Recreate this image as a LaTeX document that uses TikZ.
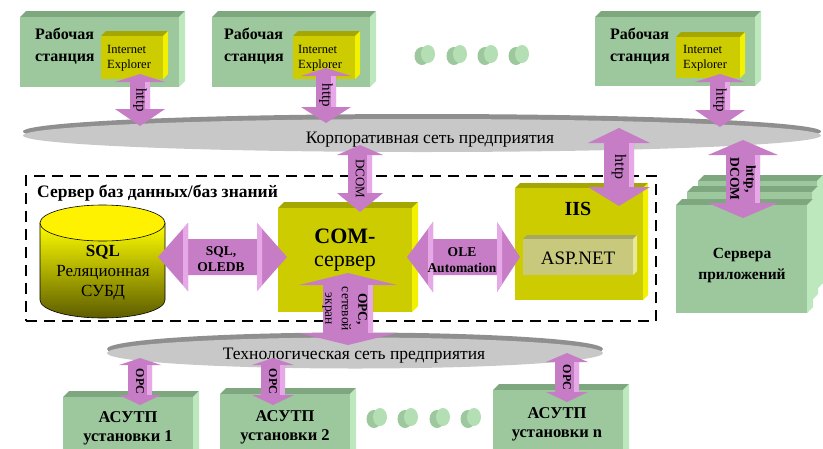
\documentclass[tikz,border=0pt]{standalone}
\usepackage{fontspec}
\setmainfont{Liberation Serif}
\usetikzlibrary{shapes.geometric}
\definecolor{gfront}{HTML}{9DC79D}
\definecolor{gside}{HTML}{BDE8BD}
\definecolor{gtop}{HTML}{7FA77F}
\definecolor{yfront}{HTML}{CCCC00}
\definecolor{yside}{HTML}{F2F200}
\definecolor{ytop}{HTML}{A6A600}
\definecolor{afront}{HTML}{C9C97D}
\definecolor{aside}{HTML}{E8E896}
\definecolor{atop}{HTML}{A7A765}
\definecolor{arr}{HTML}{C67DC6}
\definecolor{arrl}{HTML}{E6A8E6}
\definecolor{netg}{HTML}{C8C8C8}
\definecolor{netd}{HTML}{8F8F8F}
\newcommand\fsz[2]{\fontsize{#1}{#2}\selectfont}
% 3D box: name, x1, y1, x2, y2, depth, colour prefix
\newcommand\boxthreed[7]{%
  \fill[#7top] (#2,#3) -- ({#2+#6},{#3-#6}) -- ({#4+#6},{#3-#6}) -- (#4,#3) -- cycle;
  \fill[#7side] (#4,#3) -- ({#4+#6},{#3-#6}) -- ({#4+#6},{#5-#6}) -- (#4,#5) -- cycle;
  \node[fill=#7front, inner sep=0, anchor=north west, minimum width={#4-#2}, minimum height={#5-#3}] (#1) at (#2,#3) {};
}
% vertical double block arrow: name, cx, ytop, ybot, shaft half, head half, top len, bottom len
\newcommand\varr[8]{%
  \fill[arr] (#2,#3) -- ({#2+#6},{#3+#7}) -- ({#2+#5},{#3+#7}) -- ({#2+#5},{#4-#8}) -- ({#2+#6},{#4-#8}) -- (#2,#4)
    -- ({#2-#6},{#4-#8}) -- ({#2-#5},{#4-#8}) -- ({#2-#5},{#3+#7}) -- ({#2-#6},{#3+#7}) -- cycle;
  \fill[arrl] ({#2+#5-5},{#3+#7}) rectangle ({#2+#5},{#4-#8});
  \coordinate (#1) at (#2,{(#3+#4)/2});
}
% horizontal double block arrow: name, xl, xr, cy, shaft half, head half, left len, right len
\newcommand\harr[8]{%
  \fill[arr] (#2,#4) -- ({#2+#7},{#4-#6}) -- ({#2+#7},{#4-#5}) -- ({#3-#8},{#4-#5}) -- ({#3-#8},{#4-#6}) -- (#3,#4)
    -- ({#3-#8},{#4+#6}) -- ({#3-#8},{#4+#5}) -- ({#2+#7},{#4+#5}) -- ({#2+#7},{#4+#6}) -- cycle;
  \fill[arrl] ({#2+#7},{#4-#6}) -- ({#2+#7},{#4+#6}) -- ({#2+#7-5},{#4+#6-5*#6/#7}) -- ({#2+#7-5},{#4-#6+5*#6/#7}) -- cycle;
  \fill[arrl] ({#3-#8},{#4-#6}) -- ({#3-#8},{#4+#6}) -- ({#3-#8+5},{#4+#6-5*#6/#8}) -- ({#3-#8+5},{#4-#6+5*#6/#8}) -- cycle;
  \coordinate (#1) at ({(#2+#3)/2},#4);
}
% small green cylinder dot
\newcommand\gdot[3]{%
  \fill[gfront] ({#2-3},{#3+1}) ellipse [x radius=7.5pt, y radius=9pt];
  \fill[gside!70!gfront] ({#2+3},{#3-1}) ellipse [x radius=7pt, y radius=9pt];
  \coordinate (#1) at (#2,#3);
}
\begin{document}
\begin{tikzpicture}[x=1pt,y=-1pt,
  wst/.style={font=\bfseries\fsz{16}{22}, align=left, inner sep=0, anchor=west},
  iet/.style={font=\fsz{12.5}{15.5}, align=left, inner sep=0, anchor=west},
  nett/.style={font=\fsz{17.5}{19}, inner sep=0, anchor=base},
  arrt/.style={rotate=-90, inner sep=0, align=center},
  boldc/.style={font=\bfseries\fsz{16.5}{19}, align=center, inner sep=0},
]
\useasboundingbox (0,0) rectangle (823,448);

% dashed server frame
\node[draw, line width=2.2pt, dash pattern=on 11pt off 7pt, inner sep=0, anchor=north west,
      minimum width=630, minimum height=145] (frame) at (25,175) {};
\node[font=\bfseries\fsz{17.5}{19}, inner sep=0, anchor=base west] (frametitle) at (37,197) {Сервер баз данных/баз знаний};

% workstations
\boxthreed{ws1}{20}{17}{179}{87}{6}{g}
\boxthreed{ws2}{212}{17}{370}{87}{6}{g}
\boxthreed{ws3}{595}{17}{755}{86}{6}{g}
\boxthreed{ie1}{101}{36}{163}{79}{5}{y}
\boxthreed{ie2}{293}{36}{355}{79}{5}{y}
\boxthreed{ie3}{676}{37}{740}{78}{5}{y}
\node[wst] (ws1t) at (35,46) {Рабочая\\станция};
\node[wst] (ws2t) at (224,46) {Рабочая\\станция};
\node[wst] (ws3t) at (610,46) {Рабочая\\станция};
\node[iet] (ie1t) at (107,58) {Internet\\Explorer};
\node[iet] (ie2t) at (298,58) {Internet\\Explorer};
\node[iet] (ie3t) at (683,58) {Internet\\Explorer};

\gdot{d1}{425}{55}
\gdot{d2}{457}{55}
\gdot{d3}{488}{55}
\gdot{d4}{519}{55}

% corporate network
\node[ellipse, fill=netd, minimum width=798, minimum height=35, inner sep=0] (corpsh) at (422,131.5) {};
\node[ellipse, fill=netg, minimum width=798, minimum height=33, inner sep=0] (corp) at (422,135.5) {};
\node[nett] (corpt) at (430,143) {Корпоративная сеть предприятия};

% database cylinder
\shade[top color=yellow, bottom color=yfront!45!black, draw=black, line width=0.6pt]
  (40,223) -- (40,300) arc[start angle=180, end angle=360, x radius=62.5pt, y radius=18pt] -- (165,223) -- cycle;
\node[ellipse, fill=yellow, draw=black, line width=0.6pt, minimum width=125, minimum height=36, inner sep=0] (dbtop) at (102.5,223) {};
\node[font=\fsz{17}{20}, align=center, inner sep=0] (dbt) at (103,273) {{\bfseries SQL}\\Реляционная\\СУБД};

% COM server
\boxthreed{com}{278}{208}{412}{312}{6}{y}
\node[font=\bfseries\fsz{22}{24}, inner sep=0, anchor=base] (comt1) at (345,243) {COM-};
\node[font=\fsz{22}{24}, inner sep=0, anchor=base] (comt2) at (345,266) {сервер};

% IIS
\boxthreed{iis}{515}{188}{643}{300}{5}{y}
\node[font=\bfseries\fsz{20}{22}, inner sep=0, anchor=base] (iist) at (578,215) {IIS};
\boxthreed{asp}{523}{239}{633}{275}{4}{a}
\node[font=\fsz{19}{21}, inner sep=0, anchor=base] (aspt) at (578,264) {ASP.NET};

% application servers
\boxthreed{app3}{698}{181}{817}{289}{6}{g}
\boxthreed{app2}{687}{192}{812}{300}{6}{g}
\boxthreed{app1}{676}{205}{807}{313}{6}{g}
\node[font=\bfseries\fsz{15.5}{21}, align=center, inner sep=0] (appt) at (742,266) {Сервера\\приложений};

% technological network
\node[ellipse, fill=netd, minimum width=496, minimum height=33, inner sep=0] (techsh) at (355,349) {};
\node[ellipse, fill=netg, minimum width=496, minimum height=31, inner sep=0] (tech) at (355,353) {};
\node[nett] (techt) at (354,359) {Технологическая сеть предприятия};

% process control systems
\boxthreed{as1}{63}{397}{193}{460}{6}{g}
\boxthreed{as2}{220}{394}{350}{460}{6}{g}
\boxthreed{as3}{493}{390}{623}{460}{6}{g}
\node[boldc] (as1t) at (128,428) {АСУТП\\установки 1};
\node[boldc] (as2t) at (285,427) {АСУТП\\установки 2};
\node[boldc] (as3t) at (557,424) {АСУТП\\установки n};

\gdot{e1}{377}{418}
\gdot{e2}{408}{418}
\gdot{e3}{440}{418}
\gdot{e4}{471}{418}

% block arrows
\varr{a1}{140}{74}{126}{10}{25}{8}{17}
\varr{a2}{326}{68}{123}{10}{25}{8}{16}
\varr{a3}{720}{74}{127}{10}{25}{8}{17}
\varr{a4}{360}{145}{212}{12}{23}{10}{19}
\varr{a5}{619}{128}{206}{15}{31}{15}{19}
\varr{a6}{743}{140}{218}{17}{35}{15}{15}
\varr{a7}{348}{273}{345}{25}{49}{12}{12}
\varr{a8}{140}{358}{405}{12}{21}{7}{10}
\varr{a9}{273}{358}{405}{12}{21}{7}{10}
\varr{a10}{567}{353}{402}{12}{21}{9}{10}
\harr{b1}{158}{287}{257}{18}{34}{30}{30}
\harr{b2}{407}{520}{257}{18}{35}{26}{23}

\node[arrt, font=\fsz{15}{17}] (a1t) at (a1) {http};
\node[arrt, font=\fsz{15}{17}] (a2t) at (a2) {http};
\node[arrt, font=\fsz{15}{17}] (a3t) at (a3) {http};
\node[arrt, font=\fsz{13}{15}] (a4t) at (a4) {DCOM};
\node[arrt, font=\fsz{16}{18}] (a5t) at (a5) {http};
\node[arrt, font=\bfseries\fsz{13.5}{16}] (a6t) at (a6) {http,\\DCOM};
\node[arrt, font=\fsz{13.5}{16.5}] (a7t) at ([xshift=-3pt]a7) {{\bfseries OPC,}\\сетевой\\экран};
\node[arrt, font=\bfseries\fsz{12}{14}] (a8t) at (a8) {OPC};
\node[arrt, font=\bfseries\fsz{12}{14}] (a9t) at (a9) {OPC};
\node[arrt, font=\bfseries\fsz{12}{14}] (a10t) at (a10) {OPC};
\node[font=\bfseries\fsz{13.5}{15.5}, align=center, inner sep=0] (b1t) at (221,259) {SQL,\\OLEDB};
\node[font=\bfseries\fsz{13.5}{16}, align=center, inner sep=0] (b2t) at (462,260) {OLE\\Automation};
\end{tikzpicture}
\end{document}
